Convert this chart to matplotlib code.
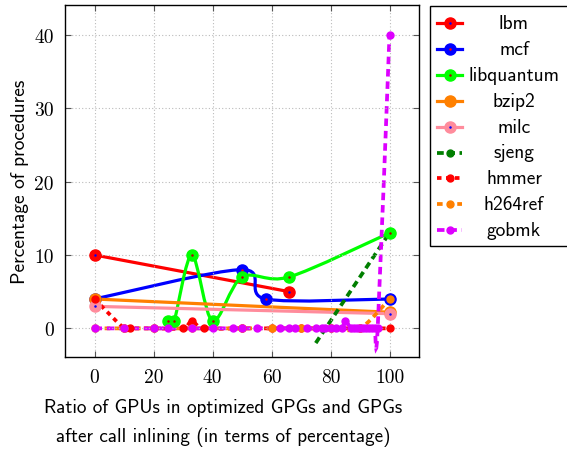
import matplotlib
matplotlib.use("Agg")
import matplotlib.pyplot as plt
import numpy as np
from matplotlib.path import Path
from matplotlib.patches import PathPatch, Rectangle
from matplotlib.lines import Line2D

plt.rcParams['axes.unicode_minus'] = False

# data
lbm_x = [0, 66]
lbm_y = [10, 5]
mcf_x = [0, 50, 58, 100]
mcf_y = [4, 8, 4, 4]
libq_x = [25, 27, 33, 40, 50, 66, 100]
libq_y = [1, 1, 10, 1, 7, 7, 13]
bzip2_x = [0, 100]
bzip2_y = [4, 2.2]
milc_x = [0, 100]
milc_y = [3, 2]
sjeng_x = [75, 100]
sjeng_y = [-2, 13]
hmmer_x = [0, 10, 12, 20, 30, 33, 37, 50, 60, 70, 80, 90, 100]
hmmer_y = [4, 0, 0, 0, 0, 1, 0, 0, 0, 0, 0, 0, 0]
h264_x = [0, 10, 20, 33, 50, 60, 70, 80, 90, 100]
h264_y = [0, 0, 0, 0, 0, 0, 0, 0, 0, 4]
gobmk_x = [0, 10, 20, 25, 33, 40, 47, 50, 55, 63, 66, 68, 72, 75, 77, 78, 80, 82,
           84, 85, 87, 88, 89, 90, 91, 92, 93, 94, 95, 96, 100]
gobmk_y = [0, 0, 0, 0, 0, 0, 0, 0, 0, 0, 0, 0, 0, 0, 0, 0, 0, 0,
           0, 1, 0, 0, 0, 0, 0, 0, 0, 0, 0, 0, 40]

names = ['lbm', 'mcf', 'libquantum', 'bzip2', 'milc', 'sjeng', 'hmmer', 'h264ref', 'gobmk']
xticks = [0, 20, 40, 60, 80, 100]
yticks = [0, 10, 20, 30, 40]


def smooth(xs, ys, k=0.153):
    # bezier curve through the points, like pgfplots "smooth"
    p = np.column_stack([xs, ys]).astype(float)
    n = len(p)
    verts = [p[0]]
    codes = [Path.MOVETO]
    for i in range(n - 1):
        a = p[i - 1] if i > 0 else p[i]
        b = p[i + 2] if i + 2 < n else p[i + 1]
        verts += [p[i] + k * (p[i + 1] - a), p[i + 1] - k * (b - p[i]), p[i + 1]]
        codes += [Path.CURVE4] * 3
    return Path(verts, codes)


fig = plt.figure(figsize=(5.67, 4.52), dpi=100)
ax = fig.add_axes([65 / 567, 94 / 452, 354 / 567, 352 / 452])

#        x, y, color, dot, dashes, marker size
series = [
    (lbm_x, lbm_y, '#ff0000', '#0000ff', None, 8),
    (mcf_x, mcf_y, '#0000ff', '#ff0000', None, 8),
    (libq_x, libq_y, '#00ff00', '#b00000', None, 8),
    (bzip2_x, bzip2_y, '#ff8000', None, None, 8),
    (milc_x, milc_y, '#ff8c9c', '#0000ff', None, 8),
    (sjeng_x, sjeng_y, '#007f00', None, (1.8, 1.2), 5),
    (hmmer_x, hmmer_y, '#ff0000', None, (1.2, 1.2), 5),
    (h264_x, h264_y, '#ff8000', None, (1.5, 1.2), 5),
    (gobmk_x, gobmk_y, '#dd00ff', None, (2.0, 1.3), 5),
]

handles = []
for xs, ys, col, dot, dash, ms in series:
    ls = '-' if dash is None else (0, dash)
    lw = 2.3 if dash is None else 2.7
    patch = PathPatch(smooth(xs, ys), facecolor='none', edgecolor=col, lw=lw,
                      linestyle=ls, capstyle='butt')
    ax.add_patch(patch)
    if len(xs) > 2 or dash is None:
        ax.plot(xs, ys, 'o', color=col, ms=ms, mec=col, mew=1, zorder=3)
    if dot is not None:
        ax.plot(xs, ys, 'o', color=dot, ms=1.8, mew=0, zorder=3)
    handles.append((col, dot, dash, ms, lw))

ax.set_xlim(-10, 110)
ax.set_ylim(-3.9, 44.05)
ax.set_xticks(xticks)
ax.set_yticks(yticks)
ax.set_xticklabels([str(t) for t in xticks], fontfamily='cmr10', fontsize=14)
ax.set_yticklabels([str(t) for t in yticks], fontfamily='cmr10', fontsize=14)
ax.tick_params(direction='in', top=True, right=True, length=4, color='#555555', pad=8)
ax.grid(True, linestyle=(0, (1, 2)), color='#bbbbbb', lw=0.8)
for s in ax.spines.values():
    s.set_linewidth(1.0)

ax.set_ylabel('Percentage of procedures', fontfamily='cmss10', fontsize=14, labelpad=4)
fig.text(223 / 567, 1 - 408 / 452, 'Ratio of GPUs in optimized GPGs and GPGs',
         fontfamily='cmss10', fontsize=13.8, ha='center', va='center')
fig.text(223 / 567, 1 - 437 / 452, 'after call inlining (in terms of percentage)',
         fontfamily='cmss10', fontsize=13.8, ha='center', va='center')

# legend drawn by hand (centered entries, cut at the right edge)
fig.patches.append(Rectangle((430 / 567, 1 - 247 / 452), 0.5, 240 / 452,
                             transform=fig.transFigure, facecolor='white',
                             edgecolor='black', lw=1.0))
for i, (name, (col, dot, dash, ms, lw)) in enumerate(zip(names, handles)):
    yy = 1 - (24 + i * 25.9) / 452
    ls = '-' if dash is None else (0, dash)
    fig.lines.append(Line2D([437 / 567, 462 / 567], [yy, yy], transform=fig.transFigure,
                            color=col, lw=lw, linestyle=ls))
    fig.lines.append(Line2D([449.5 / 567], [yy], transform=fig.transFigure, marker='o',
                            color=col, ms=ms, mew=1))
    if dot is not None:
        fig.lines.append(Line2D([449.5 / 567], [yy], transform=fig.transFigure, marker='o',
                                color=dot, ms=1.8, mew=0))
    fig.text(514 / 567, yy, name, fontfamily='cmss10', fontsize=14, ha='center', va='center')

fig.savefig('out.png', dpi=100)
